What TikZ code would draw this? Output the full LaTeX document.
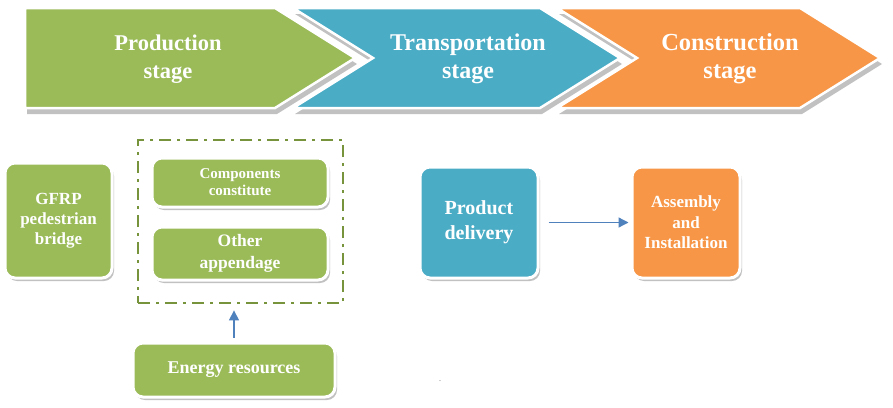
\documentclass[tikz,border=0pt]{standalone}
\usepackage{fontspec}
\setmainfont{Liberation Serif}
\usetikzlibrary{arrows.meta,shadows}
\definecolor{cgreen}{HTML}{9BBB59}
\definecolor{cblue}{HTML}{4BACC6}
\definecolor{corange}{HTML}{F79646}
\definecolor{dgreen}{HTML}{77933C}
\definecolor{arrowblue}{HTML}{4F81BD}
\begin{document}
\begin{tikzpicture}[x=1pt,y=-1pt,
  chev/.style={draw=white, line width=2.5pt, line join=miter,
    drop shadow={shadow xshift=2pt, shadow yshift=-6pt, fill=black!40, opacity=0.6}},
  stagetext/.style={text=white, font=\bfseries\fontsize{23}{28}\selectfont, align=center, inner sep=0pt},
  box/.style={rounded corners=10pt, draw=white, line width=3pt,
    drop shadow={shadow xshift=2pt, shadow yshift=-3pt, fill=black!40, opacity=0.6},
    text=white, font=\bfseries, align=center, inner sep=0pt},
  grpbox/.style={draw=dgreen, line width=2.8pt, dash pattern=on 12pt off 6pt on 3pt off 6pt, inner sep=0pt},
  link/.style={draw=arrowblue, line width=1.3pt, -{Triangle[length=10pt,width=10pt]}}
]
\useasboundingbox (0,0) rectangle (893,407);
\fill[white] (0,0) rectangle (893,407);

% chevrons
\path[chev, fill=cgreen] (25,8) -- (275,8) -- (355,58) -- (275,108) -- (25,108) -- cycle;
\path[chev, fill=cblue] (293,8) -- (540,8) -- (620,58) -- (540,108) -- (293,108) -- (373,58) -- cycle;
\path[chev, fill=corange] (557,8) -- (800,8) -- (880,58) -- (800,108) -- (557,108) -- (637,58) -- cycle;

\node[stagetext, font=\bfseries\fontsize{22.5}{28}\selectfont] (ps) at (168,59) {Production\\stage};
\node[stagetext, font=\bfseries\fontsize{24}{28}\selectfont] (ts) at (468,59) {Transportation\\stage};
\node[stagetext, font=\bfseries\fontsize{24.5}{28}\selectfont] (cs) at (730,59) {Construction\\stage};

% lower boxes
\node[box, fill=cgreen, minimum width=107pt, minimum height=115pt,
  font=\bfseries\fontsize{17}{20}\selectfont] (gfrp) at (58.5,220.5) {GFRP\\pedestrian\\bridge};
\node[grpbox, minimum width=205pt, minimum height=163pt] (grp) at (240.5,221.5) {};
\node[box, fill=cgreen, minimum width=176pt, minimum height=49pt,
  font=\bfseries\fontsize{15}{17}\selectfont] (comp) at (240,182.5) {Components\\constitute};
\node[box, fill=cgreen, minimum width=176pt, minimum height=53pt,
  font=\bfseries\fontsize{17.5}{22}\selectfont] (other) at (240,253.5) {Other\\appendage};
\node[box, fill=cgreen, minimum width=202pt, minimum height=54pt,
  font=\bfseries\fontsize{18}{20}\selectfont] (energy) at (234,370) {Energy resources};
\node[box, fill=cblue, minimum width=118pt, minimum height=111pt,
  font=\bfseries\fontsize{20}{25}\selectfont] (pd) at (479,222.5) {Product\\delivery};
\node[box, fill=corange, minimum width=108pt, minimum height=111pt,
  font=\bfseries\fontsize{17}{20.5}\selectfont] (asm) at (686,222.5) {Assembly\\and\\Installation};

% connectors
\draw[link, shorten <=4pt, shorten >=6pt] (energy.north) -- (energy.north |- grp.south);
\draw[link, shorten <=9pt, shorten >=2pt] (pd.east) -- (asm.west);

\node[font=\fontsize{8}{8}\selectfont, text=black!60, inner sep=0pt] (dot) at (440,381) {.};
\end{tikzpicture}
\end{document}
